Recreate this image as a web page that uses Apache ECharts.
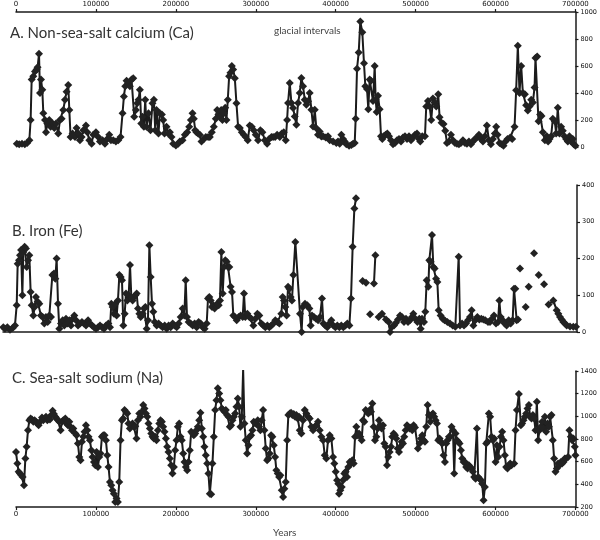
<!DOCTYPE html>
<html>
<head>
<meta charset="utf-8">
<script src="https://cdn.jsdelivr.net/npm/echarts@6/dist/echarts.min.js"></script>
<style>html,body{margin:0;padding:0;background:#fff}#c{width:600px;height:540px}</style>
</head>
<body>
<div id="c"></div>
<script>
// Panel A: non-sea-salt calcium [year, value]
const caData = [[1000,25],[4000,20],[7500,25],[11000,20],[14000,30],[16700,50],[18300,200],[19600,500],[21700,525],[23800,560],[25800,575],[27000,590],[28800,690],[30000,400],[31300,500],[32900,425],[34200,250],[36300,200],[37500,110],[39200,175],[41700,200],[43300,150],[45800,175],[47900,140],[50000,175],[52900,100],[55000,200],[57100,210],[59200,275],[61300,350],[63300,410],[65400,460],[66700,275],[68300,75],[70800,100],[73800,75],[75800,140],[77900,100],[80000,50],[82100,75],[84200,125],[87500,160],[89200,110],[91700,50],[94600,25],[96700,90],[100000,110],[102900,75],[105000,40],[108300,50],[111300,25],[114200,60],[116700,90],[118800,50],[121700,50],[125000,40],[127900,50],[130800,75],[133300,250],[135000,375],[136700,450],[138300,490],[140400,475],[142500,450],[144600,500],[146700,510],[147900,225],[150000,275],[151700,325],[153300,350],[155000,425],[156700,175],[158300,225],[160000,150],[161700,350],[163300,150],[165800,250],[168300,125],[170800,325],[172500,350],[174200,125],[175800,275],[178300,100],[180000,250],[182500,240],[184200,200],[185800,100],[188300,150],[190400,100],[192500,110],[194600,75],[196700,25],[200000,12],[202900,25],[205000,40],[208300,50],[211300,90],[214200,110],[216700,150],[218800,200],[220800,250],[222500,210],[224200,125],[225800,110],[227900,100],[230000,90],[232100,40],[235000,60],[237500,75],[240400,75],[242500,75],[245000,110],[247500,150],[250000,210],[251700,275],[253300,240],[255000,225],[256700,275],[258300,200],[260000,250],[261700,290],[263300,200],[265000,350],[266700,525],[268300,550],[270000,600],[271700,575],[273800,510],[275800,325],[277900,150],[280000,140],[282500,110],[285000,90],[287500,75],[290000,50],[292500,160],[295000,150],[297500,125],[300000,90],[302900,50],[305800,125],[308300,110],[311300,50],[314200,25],[316700,60],[319600,75],[321700,75],[324200,75],[326700,90],[330000,75],[332500,100],[335000,110],[337500,50],[339200,200],[340400,326],[342500,475],[344600,326],[346700,289],[348800,226],[350800,164],[352900,326],[355000,400],[357100,512],[359200,450],[361300,350],[363300,313],[365400,338],[367500,400],[369600,276],[371700,152],[373800,276],[375800,139],[377900,90],[380000,114],[382100,77],[384200,80],[387500,70],[390400,80],[392500,50],[396700,40],[400800,30],[402900,40],[405000,25],[407100,90],[409200,60],[411300,40],[413300,20],[416700,10],[419600,15],[421700,25],[423800,30],[425000,210],[426700,580],[428800,700],[430800,930],[433300,850],[435400,620],[437100,450],[439200,430],[440800,280],[442500,500],[444200,490],[446700,340],[448800,600],[450000,350],[451300,260],[452900,380],[455000,280],[456700,80],[458300,60],[460000,80],[462500,90],[464600,100],[466700,80],[469200,50],[471700,20],[474200,30],[476700,50],[479200,60],[481700,40],[484200,70],[486700,80],[489200,60],[491700,80],[494200,50],[496700,70],[499200,90],[501700,100],[504200,60],[505800,40],[508300,80],[511700,80],[513300,300],[515400,340],[517500,300],[519600,200],[521700,360],[523800,330],[525800,300],[528300,390],[530000,220],[532500,180],[535000,170],[537100,120],[539200,30],[541700,40],[544200,90],[546700,50],[549200,30],[551700,25],[554200,20],[556700,30],[559200,50],[561700,30],[564200,25],[566700,40],[569200,20],[571700,40],[574200,60],[576700,70],[579200,90],[581700,60],[584200,40],[586700,80],[589200,160],[591700,50],[594200,20],[596700,60],[599200,100],[600800,150],[602500,90],[605000,30],[607500,20],[610000,10],[612500,40],[615000,60],[618300,70],[620800,60],[623800,150],[625800,420],[627900,750],[630000,400],[632100,600],[634200,400],[636700,390],[638300,310],[640400,270],[642500,300],[644600,350],[646700,330],[648800,440],[650000,660],[652100,670],[653800,190],[655800,240],[657500,230],[659200,110],[661700,50],[664200,80],[665800,40],[667500,60],[669600,80],[671700,210],[674200,190],[675800,100],[677900,290],[680000,100],[682100,150],[684200,120],[686300,80],[688300,60],[690400,40],[692500,80],[694600,40],[696700,60],[697900,20],[700000,10]];

// Panel B: iron [year, value]; null = gap in record
const feData = [[400,13],[2400,9],[5300,13],[8500,6],[11800,11],[14600,18],[16700,73],[17900,186],[19500,195],[20700,209],[22000,223],[23600,100],[24800,218],[26400,232],[28000,227],[28900,177],[30500,195],[32100,209],[33700,109],[35000,73],[37000,45],[38600,68],[40200,95],[42300,82],[44300,77],[46300,45],[48400,41],[50400,23],[52400,41],[54500,27],[56500,45],[58500,41],[60200,155],[62200,159],[63800,145],[65400,200],[67100,77],[68700,9],[70700,23],[72800,32],[74800,18],[76800,36],[78900,23],[80900,32],[82900,18],[85000,36],[87000,45],[89000,32],[91500,18],[93900,23],[96300,27],[98800,23],[101200,18],[103700,32],[106100,23],[108500,18],[111000,13],[113400,9],[115900,13],[118300,18],[120700,13],[123200,9],[125600,18],[128500,23],[130500,13],[132100,77],[133700,68],[135400,50],[137000,77],[138600,45],[140200,86],[141900,155],[143500,150],[145100,141],[146700,18],[148400,50],[150000,105],[151600,86],[153300,100],[154900,182],[156500,95],[158100,86],[159800,95],[161400,100],[163000,105],[164600,64],[166300,50],[167900,41],[170300,50],[172000,64],[173600,68],[175200,9],[176800,32],[178500,236],[180100,150],[181700,77],[183300,55],[185000,27],[187400,18],[189800,23],[192300,18],[194700,13],[197200,18],[199600,9],[202000,18],[204500,13],[206900,23],[209300,18],[211800,13],[214200,23],[216700,41],[219100,64],[221100,45],[222800,141],[224400,41],[226400,27],[228900,23],[231300,18],[233700,23],[236200,13],[238600,27],[241100,23],[243500,13],[245900,9],[248400,23],[250000,91],[251600,95],[253300,86],[254900,68],[256500,73],[258100,64],[259800,73],[261400,77],[263000,73],[264600,86],[266300,218],[267900,105],[269500,177],[271100,195],[272800,191],[274400,177],[276000,177],[277600,123],[279300,109],[280900,45],[282900,41],[285000,32],[287400,41],[289800,45],[292300,41],[293900,105],[295500,41],[298000,50],[300400,41],[302800,36],[305300,18],[307700,36],[310200,50],[312600,45],[315000,23],[317500,18],[319900,13],[322400,18],[324800,13],[327200,18],[329700,23],[332100,32],[334600,27],[337000,23],[339400,50],[341100,95],[342700,86],[344300,68],[345900,45],[347600,123],[349200,118],[350800,95],[352400,86],[354100,155],[356500,245],[362200,50],[364200,0],[365500,68],[368300,77],[371100,73],[373600,64],[375200,18],[376800,45],[379300,41],[381700,36],[384200,32],[386600,41],[389000,91],[390700,23],[393100,18],[395500,13],[398000,23],[400400,32],[402900,18],[405300,13],[407700,18],[410200,13],[412600,18],[415000,13],[417500,18],[419900,23],[422400,18],[424400,91],[426400,232],[428500,336],[430500,364],[434000,null],[438600,139],[442700,134],[445000,null],[447600,48],[450000,null],[452400,132],[454100,209],[456000,null],[458100,41],[462200,50],[467100,34],[470300,27],[472000,0],[474400,14],[476800,18],[479300,25],[481700,34],[484200,45],[486600,41],[489000,27],[491500,36],[493900,27],[496300,32],[498800,41],[500400,50],[502800,36],[505300,27],[507700,36],[509400,9],[511000,36],[513400,27],[515000,55],[516700,141],[518700,123],[519900,195],[521500,191],[523200,264],[524800,177],[526400,173],[528100,145],[529700,136],[531300,59],[533700,45],[536200,36],[538600,32],[541900,27],[545100,23],[548400,18],[551600,14],[555700,205],[557300,18],[559800,23],[562200,18],[564600,23],[567100,32],[569500,41],[571500,59],[573600,18],[576000,32],[578500,41],[580900,34],[583300,36],[585800,34],[588200,32],[591500,27],[593900,27],[596300,36],[598800,45],[601200,23],[603700,27],[605300,86],[606900,41],[609400,32],[611800,23],[614200,18],[616700,32],[619100,23],[621500,32],[623200,118],[624800,118],[626400,32],[628000,34],[629000,null],[630500,173],[634000,null],[637400,68],[639000,null],[641100,123],[644000,null],[647600,214],[650000,null],[653300,155],[656000,null],[659800,130],[662000,null],[665400,75],[671100,86],[675200,59],[677200,50],[679300,41],[681300,34],[683300,27],[685400,23],[687400,18],[691500,15],[695500,14],[698800,14]];

// Panel C: sea-salt sodium [year, value]
const naData = [[0,686],[1700,583],[3300,510],[5000,495],[6700,480],[8300,465],[10000,392],[11700,627],[13300,731],[15000,878],[16700,966],[18300,981],[20000,972],[21700,952],[23300,966],[25000,952],[26700,937],[28300,922],[30000,952],[32500,990],[34200,966],[35800,981],[37500,996],[39200,966],[40800,981],[42500,972],[44200,1011],[45800,1049],[47500,1020],[49200,996],[50800,981],[52500,966],[54200,952],[55800,878],[57500,952],[59200,966],[61700,981],[63300,937],[65000,922],[66700,952],[68300,908],[70000,878],[71700,893],[74200,849],[75800,834],[77500,760],[79200,642],[80800,613],[82500,775],[84200,819],[85800,863],[87500,922],[89200,878],[90800,819],[92500,790],[94200,701],[95800,642],[97500,598],[99200,569],[100800,686],[102500,554],[104200,642],[105800,672],[107500,819],[109200,834],[110800,834],[112500,790],[114200,657],[115800,554],[117500,421],[119200,392],[120800,347],[122500,318],[124200,244],[125800,274],[127500,244],[129200,421],[130800,790],[132500,966],[134200,981],[135800,1055],[137500,1040],[139200,1025],[140800,937],[142500,893],[144200,922],[145800,937],[147500,908],[149200,913],[150800,804],[152500,966],[154200,1025],[155800,996],[157500,1040],[159200,1099],[160800,1070],[162500,1025],[164200,996],[165800,937],[167500,893],[169200,849],[170800,819],[172500,804],[174200,819],[175800,790],[177500,878],[179200,937],[180800,966],[182500,952],[184200,908],[185800,863],[187500,804],[189200,731],[190800,686],[192500,627],[194200,569],[195800,495],[197500,554],[199200,701],[200800,790],[202500,908],[204200,937],[205800,819],[207500,790],[209200,672],[210800,598],[212500,554],[214200,524],[215800,598],[217500,701],[219200,863],[220800,849],[222500,834],[224200,849],[225800,878],[227500,908],[229200,966],[230800,1031],[232500,893],[234200,819],[235800,731],[237500,657],[239200,583],[240800,495],[242500,318],[244200,312],[245800,583],[247500,819],[249200,1055],[250800,1143],[252500,1247],[254200,1202],[255800,1143],[257500,1070],[259200,1055],[260800,1040],[262500,1055],[264200,1011],[265800,996],[267500,908],[269200,922],[270800,966],[272500,996],[274200,1025],[275800,1084],[277500,1158],[279200,1084],[280800,908],[282500,996],[284200,1414],[285800,937],[287500,790],[289200,672],[290800,745],[292500,819],[294200,834],[295800,878],[297500,952],[299200,937],[300800,937],[302500,966],[304200,908],[305800,878],[307500,966],[309200,1055],[310800,878],[312500,716],[314200,613],[315800,627],[317500,672],[319200,834],[320800,819],[322500,745],[324200,642],[325800,524],[327500,495],[329200,465],[330800,480],[332500,347],[334200,288],[335800,362],[337500,421],[339200,790],[340800,1011],[342500,1025],[344200,1031],[345800,1011],[347500,1020],[349200,996],[350800,1011],[352500,981],[354200,996],[355000,878],[357100,849],[359200,966],[361300,1055],[363300,1025],[365400,996],[367500,981],[369600,908],[371700,878],[373800,908],[375800,922],[377900,952],[380000,878],[382100,819],[384200,790],[386300,657],[388300,627],[390400,790],[392500,834],[394600,804],[396700,642],[398300,583],[400000,510],[401700,436],[403300,406],[404200,318],[405800,347],[407500,377],[409200,436],[410800,495],[412500,510],[414200,465],[415800,554],[417500,598],[419200,583],[420800,613],[422500,583],[424200,819],[425800,908],[427500,834],[429200,849],[430800,819],[432500,790],[434200,966],[435800,952],[437500,1055],[439200,1040],[440800,1025],[442500,1055],[444200,1040],[445800,1114],[447500,908],[449200,790],[450800,819],[452500,893],[454200,966],[455800,922],[457500,893],[459200,922],[460800,760],[462500,731],[464200,569],[465800,642],[467500,686],[469200,731],[470800,819],[472500,849],[474200,834],[475800,804],[477500,716],[479200,686],[480800,731],[482500,775],[484200,760],[485800,819],[487500,878],[489200,922],[490800,908],[492500,893],[494200,902],[495800,878],[497500,922],[499200,902],[502900,716],[505000,760],[506700,804],[508300,834],[510000,790],[511700,775],[513300,908],[515000,1099],[516700,1011],[518300,952],[520000,1011],[521700,1025],[523300,996],[525000,966],[526700,937],[528300,790],[530000,804],[531700,775],[533300,760],[535000,657],[536700,598],[538300,760],[540000,790],[541700,819],[543300,819],[545000,908],[546700,878],[548300,495],[550000,849],[551700,790],[553300,775],[555000,760],[556700,701],[558300,627],[560000,598],[561700,598],[563300,554],[565000,539],[566700,569],[568300,554],[570000,539],[571700,510],[573300,465],[575000,450],[576700,893],[578300,465],[580000,450],[581700,436],[583300,406],[585000,259],[586700,377],[588300,760],[590000,775],[591700,1025],[593300,996],[595000,819],[596700,790],[598300,804],[600000,598],[601700,745],[603300,642],[605000,731],[606700,819],[608300,863],[610000,790],[611700,657],[613300,554],[615000,539],[616700,569],[618300,583],[620000,569],[623300,583],[625000,878],[626700,1055],[629200,1196],[631700,922],[633300,937],[635000,966],[636700,996],[638300,1025],[640000,1070],[641700,1099],[643300,996],[645000,981],[646700,1011],[648300,981],[650000,878],[651700,1129],[653300,790],[655000,878],[656700,908],[658300,952],[660000,893],[661700,996],[663300,863],[665000,937],[666700,908],[668300,996],[670000,1011],[671700,790],[673300,627],[675000,510],[676700,539],[678300,583],[680000,569],[681700,598],[683300,583],[685000,598],[686700,627],[688300,627],[690800,642],[692500,878],[694200,819],[695800,790],[697500,804],[699200,731],[700000,657]];

const titles = ['A. Non-sea-salt calcium (Ca)', 'B. Iron (Fe)', 'C. Sea-salt sodium (Na)'];
const noteText = 'glacial intervals';
const xName = 'Years';

const chart = echarts.init(document.getElementById('c'), null, {renderer: 'canvas'});
const black = '#1b1b1b';
const labelFont = 'DejaVu Sans';
const plain = v => String(v);
function xAx(grid, pos, showLabels) {
  return {
    type: 'value', gridIndex: grid, position: pos, min: 0, max: 700000, interval: 100000,
    axisLine: {show: true, onZero: false, lineStyle: {color: black, width: 1.5}},
    axisTick: {show: showLabels, length: 3, lineStyle: {color: black, width: 1.2}},
    axisLabel: {show: showLabels, fontSize: 7, color: '#111', fontFamily: labelFont, margin: 4, formatter: plain},
    splitLine: {show: false}
  };
}
function yAx(grid, min, max, interval) {
  return {
    type: 'value', gridIndex: grid, position: 'right', min: min, max: max, interval: interval,
    axisLine: {show: true, onZero: false, lineStyle: {color: black, width: 1.5}},
    axisTick: {show: true, length: 3, lineStyle: {color: black, width: 1.2}},
    axisLabel: {fontSize: 6.5, color: '#111', fontFamily: labelFont, margin: 5, formatter: plain},
    splitLine: {show: false}
  };
}
function ser(i, data) {
  return {
    type: 'line', xAxisIndex: i, yAxisIndex: i,
    data: data.map(d => [d[0], d[1] === null ? '-' : d[1]]),
    connectNulls: false,
    symbol: 'diamond', symbolSize: 8, showSymbol: true,
    lineStyle: {color: black, width: 2},
    itemStyle: {color: '#222'},
    animation: false
  };
}
chart.setOption({
  backgroundColor: '#fff',
  animation: false,
  grid: [
    {left: 16, right: 24, top: 12, height: 135},
    {left: 3, right: 23, top: 185, height: 147},
    {left: 16, right: 24, top: 371, height: 136}
  ],
  xAxis: [xAx(0, 'top', true), xAx(1, 'bottom', false), xAx(2, 'bottom', true)],
  yAxis: [yAx(0, 0, 1000, 200), yAx(1, 0, 400, 100), yAx(2, 200, 1400, 200)],
  series: [ser(0, caData), ser(1, feData), ser(2, naData)],
  graphic: [
    {type: 'text', left: 10, top: 26, style: {text: titles[0], font: '15px Lato', fill: '#333'}},
    {type: 'text', left: 274, top: 26, style: {text: noteText, font: '10px Lato', fill: '#444'}},
    {type: 'text', left: 12, top: 224, style: {text: titles[1], font: '15px Lato', fill: '#333'}},
    {type: 'text', left: 12, top: 371, style: {text: titles[2], font: '15px Lato', fill: '#333'}},
    {type: 'text', left: 273, top: 528, style: {text: xName, font: '10px Lato', fill: '#444'}}
  ]
});
</script>
</body>
</html>
